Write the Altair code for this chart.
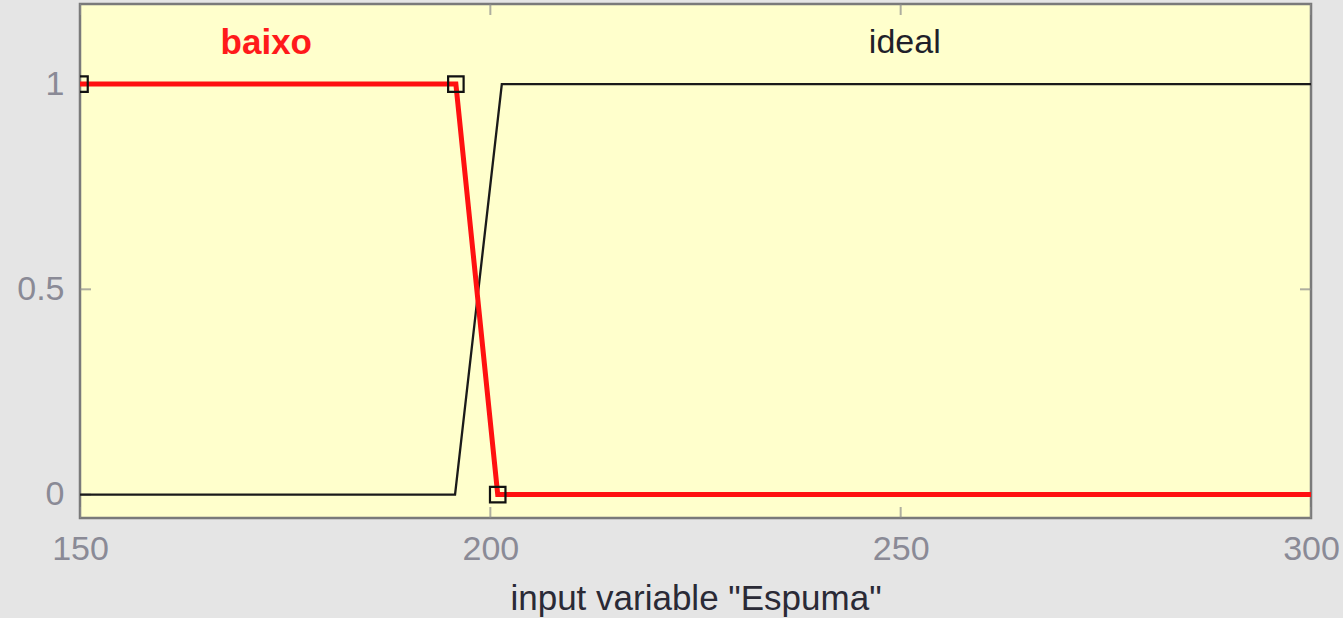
import altair as alt
import pandas as pd

# membership function "baixo" (trapezoid, selected -> red)
baixo_x = [150, 195.8, 200.9, 300]
baixo_y = [1, 1, 0, 0]
# membership function "ideal"
ideal_x = [150, 195.7, 201.4, 300]
ideal_y = [0, 0, 1, 1]
# square handles on the selected MF
handle_x = [150, 195.8, 200.9]
handle_y = [1, 1, 0]
# MF names
label_text = ["baixo", "ideal"]
label_x = [172.7, 250.5]
label_y = [1.1, 1.1]

x_ticks = [150, 200, 250, 300]
y_ticks = [0, 0.5, 1]
x_domain = [150, 300]
y_domain = [-0.057, 1.195]

baixo = pd.DataFrame({"x": baixo_x, "y": baixo_y, "o": range(len(baixo_x))})
ideal = pd.DataFrame({"x": ideal_x, "y": ideal_y, "o": range(len(ideal_x))})
handles = pd.DataFrame({"x": handle_x, "y": handle_y})
labels = pd.DataFrame({"t": label_text, "x": label_x, "y": label_y})
# inner tick marks (MATLAB style) on all four sides
yt = pd.DataFrame([{"x": e, "y": v} for v in y_ticks for e in x_domain])
xt = pd.DataFrame([{"x": v, "y": e} for v in x_ticks for e in y_domain])

FONT = "Liberation Sans"
xs = alt.Scale(domain=x_domain, nice=False, zero=False)
ys = alt.Scale(domain=y_domain, nice=False, zero=False)

x_enc = alt.X("x:Q", scale=xs, axis=alt.Axis(
    values=x_ticks, title='input variable "Espuma"', ticks=False, grid=False,
    domain=False, labelPadding=14, labelFontSize=34, labelColor="#8a8a96",
    labelFont=FONT, labelFlush=False, labelOverlap=False,
    titleFont=FONT, titleFontSize=35, titleFontWeight="normal",
    titleColor="#2a2a36", titlePadding=15))
y_enc = alt.Y("y:Q", scale=ys, axis=alt.Axis(
    values=y_ticks, title=None, ticks=False, grid=False, domain=False,
    labelPadding=16, labelFontSize=34, labelColor="#8a8a96", labelFont=FONT,
    labelFlush=False, labelOverlap=False, format="~g"))

ytick = alt.Chart(yt).mark_tick(orient="horizontal", color="#8c8c8c", size=22,
                                thickness=2, clip=True).encode(x=x_enc, y=y_enc)
xtick = alt.Chart(xt).mark_tick(orient="vertical", color="#8c8c8c", size=22,
                                thickness=2, clip=True).encode(x="x:Q", y="y:Q")
ideal_line = alt.Chart(ideal).mark_line(color="#1a1a1a", strokeWidth=2.3, clip=True).encode(
    x="x:Q", y="y:Q", order="o:O")
baixo_line = alt.Chart(baixo).mark_line(color="#ff1010", strokeWidth=5, clip=True).encode(
    x="x:Q", y="y:Q", order="o:O")
handle_pts = alt.Chart(handles).mark_point(shape="square", filled=False, color="#111111",
                                           size=240, strokeWidth=2.2, opacity=1, clip=True).encode(
    x="x:Q", y="y:Q")
lab_b = alt.Chart(labels).transform_filter(alt.datum.t == "baixo").mark_text(
    font=FONT, fontSize=35, fontWeight="bold", color="#ff1a1a", baseline="middle", align="center"
).encode(x="x:Q", y="y:Q", text="t:N")
lab_i = alt.Chart(labels).transform_filter(alt.datum.t == "ideal").mark_text(
    font=FONT, fontSize=34, color="#1f1f2a", baseline="middle", align="center"
).encode(x="x:Q", y="y:Q", text="t:N")

chart = alt.layer(ytick, xtick, ideal_line, baixo_line, handle_pts, lab_b, lab_i).properties(
    width=1231, height=514,
    autosize=alt.AutoSizeParams(type="none"),
    padding={"left": 80, "top": 4, "right": 32, "bottom": 100},
    background="#e5e5e5",
).configure_view(fill="#ffffcc", stroke="#7a7a7a", strokeWidth=2.5)

chart.save("out.html", embed_options={"renderer": "svg", "actions": False})
